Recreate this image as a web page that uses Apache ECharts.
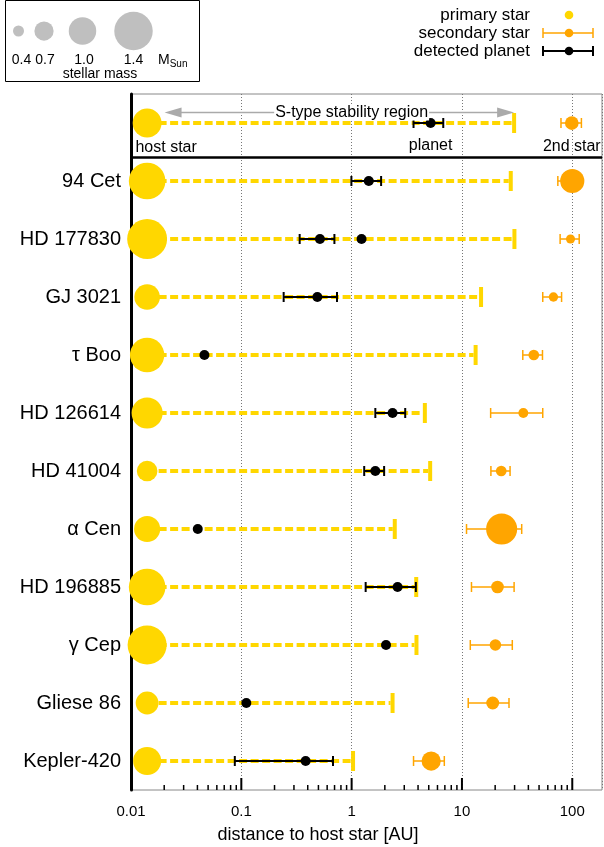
<!DOCTYPE html>
<html>
<head>
<meta charset="utf-8">
<script src="https://cdn.jsdelivr.net/npm/echarts@6/dist/echarts.min.js"></script>
<style>
  html, body { margin: 0; padding: 0; background: #fff; }
  #main { width: 604px; height: 847px; }
</style>
</head>
<body>
<div id="main"></div>
<script>
// systems, top row is the schematic example
var systems = ['', '94 Cet', 'HD 177830', 'GJ 3021', 'τ Boo', 'HD 126614', 'HD 41004',
               'α Cen', 'HD 196885', 'γ Cep', 'Gliese 86', 'Kepler-420'];
var hostMass  = [1.05, 1.33, 1.45, 0.93, 1.25, 1.13, 0.75, 0.95, 1.33, 1.42, 0.83, 1.02];
var stabLimit = [29.7, 27.7, 29.9, 14.9, 13.3, 4.61, 5.15, 2.46, 3.85, 3.87, 2.35, 1.03];

// secondary star
var secDist = [99, 100, 96.4, 67.5, 44.8, 36, 22.7, 22.9, 21, 20.1, 19, 5.26];
var secLo   = [79, 74, 77.6, 54, 35.6, 18.2, 18.3, 11, 12.2, 11.9, 11.4, 3.64];
var secHi   = [121, 110, 115.6, 80, 53.7, 54, 27.3, 34.8, 29.7, 28.6, 26.7, 6.92];
var secMass = [0.5, 0.88, 0.33, 0.34, 0.39, 0.36, 0.39, 1.13, 0.46, 0.42, 0.47, 0.7];

// detected planets
var planetRow = [0, 1, 2, 2, 3, 4, 5, 6, 7, 8, 9, 10, 11];
var planetA   = [5.2, 1.43, 0.516, 1.23, 0.489, 0.0463, 2.35, 1.64, 0.0403, 2.61, 2.05, 0.111, 0.383];
var planetLo  = [3.64, 0.995, 0.338, null, 0.242, null, 1.64, 1.30, null, 1.34, null, null, 0.0873];
var planetHi  = [6.77, 1.85, 0.698, null, 0.737, null, 3.06, 1.97, null, 3.82, null, null, 0.678];

// mass legend
var legendMass  = [0.4, 0.7, 1.0, 1.4];
var legendLabel = ['0.4', '0.7', '1.0', '1.4'];

var majorTicks = [0.01, 0.1, 1, 10, 100];
var minorMant  = [2, 3, 4, 5, 6, 7, 8, 9];

var HOST_X = 0.014;
var MASS_SCALE = 27.5;
var GOLD = '#FFD700', ORANGE = '#FFA500';
var FONT = 'Liberation Sans, Arial, sans-serif';

var tickData = [];
majorTicks.forEach(function (d) {
  tickData.push([d, 0, 12]);
  if (d < 100) minorMant.forEach(function (m) { tickData.push([d * m, 0, 5]); });
});

var chart = echarts.init(document.getElementById('main'));

function renderStab(params, api) {
  var row = api.value(1);
  var p0 = api.coord([api.value(0), row]);
  var p1 = api.coord([api.value(2), row]);
  return {
    type: 'group',
    children: [
      { type: 'line', shape: { x1: p0[0], y1: p0[1], x2: p1[0] - 2, y2: p1[1] },
        style: { stroke: GOLD, lineWidth: 4, lineDash: [8, 3.5] } },
      { type: 'rect', shape: { x: p1[0] - 2, y: p1[1] - 10, width: 4, height: 20 },
        style: { fill: GOLD } }
    ]
  };
}

function errRenderer(color, width) {
  return function (params, api) {
    var row = api.value(0);
    var a = api.coord([api.value(1), row]);
    var b = api.coord([api.value(2), row]);
    var st = { stroke: color, lineWidth: width };
    return {
      type: 'group',
      children: [
        { type: 'line', shape: { x1: a[0], y1: a[1], x2: b[0], y2: b[1] }, style: st },
        { type: 'line', shape: { x1: a[0], y1: a[1] - 5, x2: a[0], y2: a[1] + 5 }, style: st },
        { type: 'line', shape: { x1: b[0], y1: b[1] - 5, x2: b[0], y2: b[1] + 5 }, style: st }
      ]
    };
  };
}

var planetErr = [];
planetRow.forEach(function (r, i) {
  if (planetLo[i] != null) planetErr.push([r, planetLo[i], planetHi[i]]);
});

var labelStyle = { color: '#000', fontSize: 16, fontFamily: FONT };

chart.setOption({
  animation: false,
  textStyle: { fontFamily: FONT },
  grid: { left: 131, right: 2, top: 94, bottom: 57, show: true, borderColor: '#888', borderWidth: 1 },
  xAxis: [{
    type: 'log', logBase: 10, min: 0.01, max: 186,
    axisLine: { onZero: false, lineStyle: { color: '#000', width: 3 } },
    axisTick: { show: false },
    axisLabel: { fontSize: 15, color: '#000', margin: 14, showMaxLabel: false, fontFamily: FONT },
    splitLine: { show: true, lineStyle: { color: '#777', width: 1, type: [1, 2] } }
  }, {
    type: 'log', logBase: 10, min: 0.01, max: 186, position: 'top',
    axisLine: { onZero: false, lineStyle: { color: '#000', width: 3 } },
    axisTick: { show: false }, axisLabel: { show: false }, splitLine: { show: false }
  }],
  yAxis: {
    type: 'category', data: systems, inverse: true,
    axisLine: { onZero: false, lineStyle: { color: '#000', width: 3 } },
    axisTick: { show: false },
    axisLabel: { fontSize: 20, color: '#000', margin: 10, fontFamily: FONT },
    splitLine: { show: false }
  },
  series: [
    {
      type: 'custom', name: 'stability', z: 1, silent: true,
      encode: { x: [0, 2], y: 1 },
      data: stabLimit.map(function (s, i) { return [HOST_X, i, s]; }),
      renderItem: renderStab
    },
    {
      type: 'scatter', name: 'host', z: 3, silent: true,
      itemStyle: { color: GOLD, opacity: 1 },
      symbolSize: function (v) { return v[2] * MASS_SCALE; },
      data: hostMass.map(function (m, i) {
        var d = { value: [HOST_X, i, m] };
        if (i === 0) d.label = Object.assign({ show: true, position: 'bottom', distance: 2,
          offset: [19, 0], formatter: 'host star' }, labelStyle);
        return d;
      })
    },
    {
      type: 'custom', name: 'planetErr', z: 4, silent: true,
      encode: { x: [1, 2], y: 0 },
      data: planetErr,
      renderItem: errRenderer('#000', 2)
    },
    {
      type: 'scatter', name: 'planet', z: 5, silent: true, symbolSize: 10,
      itemStyle: { color: '#000', opacity: 1 },
      data: planetRow.map(function (r, i) {
        var d = { value: [planetA[i], r] };
        if (i === 0) d.label = Object.assign({ show: true, position: 'bottom', distance: 10,
          formatter: 'planet' }, labelStyle);
        return d;
      })
    },
    {
      type: 'custom', name: 'secErr', z: 4, silent: true,
      encode: { x: [1, 2], y: 0 },
      data: secDist.map(function (s, i) { return [i, secLo[i], secHi[i]]; }),
      renderItem: errRenderer(ORANGE, 1.5)
    },
    {
      type: 'scatter', name: 'secondary', z: 5, silent: true,
      itemStyle: { color: ORANGE, opacity: 1 },
      symbolSize: function (v) { return v[2] * MASS_SCALE; },
      data: secDist.map(function (s, i) {
        var d = { value: [s, i, secMass[i]] };
        if (i === 0) d.label = Object.assign({ show: true, position: 'bottom', distance: 9,
          formatter: '2nd star' }, labelStyle);
        return d;
      })
    },
    {
      type: 'custom', name: 'ticks', z: 6, silent: true,
      encode: { x: 0, y: 1 },
      data: tickData,
      renderItem: function (params, api) {
        var x = api.coord([api.value(0), 0])[0];
        var cs = params.coordSys;
        var yb = cs.y + cs.height;
        var len = api.value(2);
        return { type: 'line', shape: { x1: x, y1: yb, x2: x, y2: yb - len },
                 style: { stroke: '#000', lineWidth: len > 8 ? 2 : 1.5 } };
      }
    }
  ]
});

// annotations: arrow, separator, legends, axis title
var pHost = chart.convertToPixel({ gridIndex: 0 }, [HOST_X, 0]);
var pLim = chart.convertToPixel({ gridIndex: 0 }, [stabLimit[0], 0]);
var pMid = chart.convertToPixel({ gridIndex: 0 }, [1, 0]);
var ay = pHost[1] - 10.5;
var xl = pHost[0] + hostMass[0] * MASS_SCALE / 2 + 3;
var xr = pLim[0];
var gray = '#aaa';

var graphics = [
  { type: 'line', shape: { x1: xl + 15, y1: ay, x2: xr - 15, y2: ay }, style: { stroke: gray, lineWidth: 1.5 }, z: 10 },
  { type: 'polygon', shape: { points: [[xl, ay], [xl + 17, ay - 5], [xl + 17, ay + 5]] }, style: { fill: gray }, z: 10 },
  { type: 'polygon', shape: { points: [[xr, ay], [xr - 17, ay - 5], [xr - 17, ay + 5]] }, style: { fill: gray }, z: 10 },
  { type: 'text', x: pMid[0], y: ay, z: 11,
    style: { text: 'S-type stability region', font: '16px ' + FONT, fill: '#000',
             align: 'center', verticalAlign: 'middle', backgroundColor: '#fff', padding: [0, 1] } },
  { type: 'line', shape: { x1: 131, y1: 157.5, x2: 602, y2: 157.5 }, style: { stroke: '#000', lineWidth: 2.5 }, z: 10 },
  // axis title
  { type: 'text', x: 318, y: 835, style: { text: 'distance to host star [AU]', font: '18px ' + FONT,
    fill: '#000', align: 'center', verticalAlign: 'middle' } },
  // mass legend box
  { type: 'rect', shape: { x: 5.5, y: 0.5, width: 194, height: 81 }, style: { fill: 'none', stroke: '#000', lineWidth: 1 } },
  { type: 'text', x: 100, y: 74, style: { text: 'stellar mass', font: '14px ' + FONT, fill: '#000', align: 'center', verticalAlign: 'middle' } },
  { type: 'text', x: 158, y: 60, style: { text: '{m|M}{s|Sun}', fill: '#000', align: 'left', verticalAlign: 'middle',
    rich: { m: { fontSize: 14, fontFamily: FONT, fill: '#000' },
            s: { fontSize: 10, fontFamily: FONT, fill: '#000', padding: [8, 0, 0, 0] } } } }
];
var legendX = [18.5, 44, 82.5, 133.5];
var labelX  = [21.5, 45, 84, 133.5];
legendMass.forEach(function (m, i) {
  graphics.push({ type: 'circle', shape: { cx: legendX[i], cy: 31, r: m * MASS_SCALE / 2 }, style: { fill: '#bfbfbf' } });
  graphics.push({ type: 'text', x: labelX[i], y: 60, style: { text: legendLabel[i], font: '14px ' + FONT,
    fill: '#000', align: 'center', verticalAlign: 'middle' } });
});

// symbol legend (top right)
var legRows = [
  { text: 'primary star', y: 15, color: GOLD, bar: false, w: 0 },
  { text: 'secondary star', y: 33, color: ORANGE, bar: true, w: 1.5 },
  { text: 'detected planet', y: 51, color: '#000', bar: true, w: 2 }
];
legRows.forEach(function (r) {
  graphics.push({ type: 'text', x: 530, y: r.y, style: { text: r.text, font: '17px ' + FONT, fill: '#000',
    align: 'right', verticalAlign: 'middle' } });
  if (r.bar) {
    var st = { stroke: r.color, lineWidth: r.w };
    graphics.push({ type: 'line', shape: { x1: 543, y1: r.y, x2: 593, y2: r.y }, style: st });
    graphics.push({ type: 'line', shape: { x1: 543, y1: r.y - 5, x2: 543, y2: r.y + 5 }, style: st });
    graphics.push({ type: 'line', shape: { x1: 593, y1: r.y - 5, x2: 593, y2: r.y + 5 }, style: st });
  }
  graphics.push({ type: 'circle', shape: { cx: 569, cy: r.y, r: 4.3 }, style: { fill: r.color }, z: 2 });
});

chart.setOption({ graphic: graphics });
</script>
</body>
</html>
